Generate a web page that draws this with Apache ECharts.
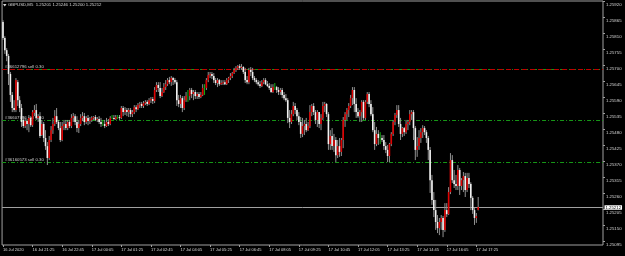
<!DOCTYPE html>
<html><head><meta charset="utf-8">
<script src="https://cdn.jsdelivr.net/npm/echarts@6/dist/echarts.min.js"></script>
<style>html,body{margin:0;padding:0;background:#000;}#c{width:625px;height:256px;}</style>
</head><body><div id="c"></div>
<script>
// Values are in pipettes (1e-5) above PRICE_BASE
const PRICE_BASE = 1.24986;
const opens = [862,807,765,745,683,611,566,559,655,593,566,525,504,521,511,532,507,549,559,532,538,473,511,463,435,394,456,490,511,538,518,497,456,504,511,497,518,504,532,538,518,497,511,532,538,518,532,521,525,532,535,525,528,518,511,511,504,518,511,532,532,528,535,535,532,566,552,559,552,559,545,552,569,562,576,580,573,583,587,580,593,597,590,628,645,635,607,621,638,648,662,655,669,662,655,593,580,600,566,593,607,607,628,614,621,607,614,604,611,635,635,662,679,683,676,662,652,662,648,652,655,648,662,669,676,686,697,704,710,704,707,690,662,655,697,690,669,662,655,648,642,655,662,648,642,635,621,638,638,628,621,628,611,600,593,532,518,545,573,559,538,518,477,504,511,490,504,552,573,552,525,552,511,532,573,580,545,442,470,435,456,404,435,415,456,525,545,559,573,600,628,580,552,538,552,587,532,587,614,580,545,490,442,477,463,463,456,435,422,401,442,477,518,542,559,511,477,497,483,511,518,545,552,497,422,435,463,483,497,483,463,422,318,250,215,174,153,174,188,147,215,201,277,387,318,305,298,353,298,318,332,284,325,305,257,215,188,215];
const closes = [807,765,745,683,611,566,559,662,593,566,518,504,521,511,532,507,552,559,532,538,470,511,463,435,394,456,490,511,538,518,497,456,504,511,497,518,504,532,538,518,497,511,532,538,518,532,521,525,532,535,525,528,518,511,511,504,518,511,532,532,528,535,535,532,566,552,559,552,559,545,552,569,562,576,580,573,583,587,580,593,597,590,628,645,635,607,621,638,648,662,655,669,662,655,593,580,600,566,593,607,607,628,614,621,607,614,604,611,635,635,662,679,683,676,662,652,662,648,652,655,648,662,669,676,686,697,704,710,704,707,690,662,655,697,690,669,662,655,648,642,655,662,648,642,635,621,638,638,628,621,628,611,600,593,532,518,545,573,559,538,518,477,504,511,490,504,552,573,552,525,552,511,532,573,580,545,442,470,435,456,404,435,415,456,525,545,559,573,600,628,580,552,538,552,587,532,587,614,580,545,490,442,477,463,463,456,435,422,401,442,477,518,542,559,511,477,497,483,511,518,545,552,497,422,435,463,483,497,483,463,422,318,250,215,174,153,174,188,147,215,201,277,387,318,305,298,353,298,318,332,284,325,305,257,215,188,194,226];
const highs = [868,813,772,752,690,621,593,669,662,607,580,538,532,528,542,538,559,576,580,545,552,525,518,490,449,470,504,532,559,566,525,518,518,525,525,525,525,545,549,545,538,525,545,552,549,538,542,535,538,538,542,535,538,532,525,525,532,528,538,542,542,542,542,542,573,573,569,566,566,566,559,576,576,583,587,587,590,593,593,600,604,604,638,655,655,655,635,652,662,669,673,676,673,669,662,611,611,607,607,621,628,635,635,628,628,621,621,621,648,648,669,690,690,690,686,669,669,666,662,662,662,669,673,686,690,704,710,714,717,717,710,704,676,704,707,704,676,669,662,659,662,669,669,659,652,648,648,652,642,638,635,635,621,614,600,559,559,587,583,566,552,535,532,525,532,518,576,580,583,559,559,552,545,587,587,583,552,490,497,477,466,456,463,463,535,552,566,583,611,638,638,600,566,559,593,593,593,621,621,593,569,518,501,490,483,473,473,449,439,446,483,525,549,576,576,532,501,501,525,525,559,559,559,504,466,490,497,507,504,490,470,432,336,277,250,198,188,198,195,239,239,294,411,404,353,336,370,360,325,346,343,343,343,311,263,222,205,260];
const lows = [800,752,727,645,587,552,552,552,573,552,501,497,497,490,483,501,501,538,525,518,463,470,449,422,370,387,449,477,504,511,490,449,452,490,490,490,497,497,518,507,483,480,504,521,507,511,507,511,518,525,521,518,511,501,504,497,501,504,507,528,525,525,528,525,528,538,542,538,535,535,535,545,552,559,566,566,566,576,573,576,583,580,583,621,621,600,604,618,628,642,648,642,645,648,573,569,566,552,559,587,587,593,600,593,597,597,597,600,607,611,628,655,669,666,652,645,638,642,645,645,645,645,652,662,669,683,690,697,697,697,683,652,648,648,676,662,655,648,642,635,638,648,645,638,628,618,618,628,618,611,611,600,593,587,514,497,511,538,545,525,507,463,466,473,483,487,497,538,542,511,501,497,490,525,552,535,422,422,422,415,380,394,398,401,428,501,525,535,566,576,552,532,532,518,518,525,525,580,569,538,483,422,435,439,442,449,422,411,380,380,435,470,507,532,501,456,466,470,477,490,507,525,456,387,398,422,446,463,473,446,387,274,233,191,147,136,129,147,122,140,191,198,270,308,291,284,284,267,284,277,260,277,291,215,202,164,171,214];

const xTickLabels = ['16 Jul 2020','16 Jul 21:25','16 Jul 22:45','17 Jul 00:05','17 Jul 01:25','17 Jul 02:45','17 Jul 04:05','17 Jul 05:25','17 Jul 06:45','17 Jul 08:05','17 Jul 09:25','17 Jul 10:45','17 Jul 12:05','17 Jul 13:25','17 Jul 14:45','17 Jul 16:05','17 Jul 17:25'];
const BARS_PER_LABEL = 16;
const TOTAL_SLOTS = 325;
const yTicks = [1.25095,1.25150,1.25205,1.25260,1.25315,1.25370,1.25425,1.25480,1.25535,1.25590,1.25645,1.25700,1.25755,1.25810,1.25865,1.25920];
const Y_MIN = 1.25081, Y_MAX = 1.25920;
const orderLevels = [1.25685, 1.25511, 1.25366];
const orderLabels = ['#36612796 sell 0.30', '#36607796 sell 0.30', '#36160573 sell 0.30'];
const stopLevel = 1.25685;
const bidPrice = 1.25212;
const titleText = 'GBPUSD,M5  1.25201 1.25246 1.25200 1.25212';

const UP = '#e00000', DOWN = '#f0f0f0', WICK = '#909090', DOJI = '#10b010';
const LINE_GREEN = '#169616', LINE_RED = '#c00000', BID_GRAY = '#a0a0a0';
const FONT = 'Liberation Sans';
const FONT_CSS = '4.3px "Liberation Sans"';

const P = v => +(PRICE_BASE + v / 1e5).toFixed(5);
const candles = opens.map((o, i) => [i, P(o), P(closes[i]), P(lows[i]), P(highs[i])]);
const categories = Array.from({length: TOTAL_SLOTS}, (_, i) => String(i));

// horizontal levels: [price, kind] kind: 1=order(green), 0=stop(red), 2=bid(gray)
const levels = orderLevels.map(v => [v, 1]).concat([[stopLevel, 0], [bidPrice, 2]]);

const chart = echarts.init(document.getElementById('c'), null, {renderer: 'canvas', devicePixelRatio: 1});
const isLabelIdx = idx => idx % BARS_PER_LABEL === 0 && idx / BARS_PER_LABEL < xTickLabels.length;

chart.setOption({
  backgroundColor: '#000',
  animation: false,
  grid: {left: 1, top: 1, right: 22, bottom: 11, show: true, borderColor: '#a0a0a0', borderWidth: 1, backgroundColor: 'transparent'},
  xAxis: {
    type: 'category', data: categories, boundaryGap: true,
    axisLine: {show: false},
    axisTick: {show: true, length: 2, alignWithLabel: true, interval: (idx) => isLabelIdx(idx), lineStyle: {color: '#a0a0a0'}},
    axisLabel: {show: true, interval: (idx) => isLabelIdx(idx), formatter: (v, idx) => xTickLabels[idx / BARS_PER_LABEL] || '',
      align: 'left', margin: 3, fontSize: 4, fontFamily: FONT, color: '#d8d8d8'},
    splitLine: {show: false}
  },
  yAxis: {
    type: 'value', position: 'right', min: Y_MIN, max: Y_MAX, scale: true,
    axisLine: {show: false},
    splitLine: {show: false},
    axisTick: {show: true, length: 2, customValues: yTicks, lineStyle: {color: '#a0a0a0'}},
    axisLabel: {show: true, customValues: yTicks, formatter: v => v.toFixed(5), margin: 3,
      fontSize: 4.3, fontFamily: FONT, color: '#d8d8d8', verticalAlign: 'top', padding: [2, 0, 0, 0],
      showMinLabel: true, showMaxLabel: true}
  },
  graphic: [
    {type: 'polygon', shape: {points: [[3, 4], [6.5, 4], [4.75, 6.5]]}, style: {fill: '#d8d8d8'}},
    {type: 'text', left: 8, top: 2.8, style: {text: titleText, fill: '#d8d8d8', font: FONT_CSS}}
  ],
  series: [
    {
      type: 'custom',
      data: levels,
      encode: {y: 0},
      clip: false,
      silent: true,
      z: 2,
      renderItem: (params, api) => {
        const v = api.value(0), kind = api.value(1);
        const cs = params.coordSys;
        const y = Math.round(api.coord([0, v])[1]) + 0.5;
        const x1 = cs.x, x2 = cs.x + cs.width;
        const children = [];
        if (kind === 0) {
          children.push({type: 'line', shape: {x1, y1: y, x2, y2: y}, style: {stroke: LINE_RED, lineWidth: 1, lineDash: [5, 3]}});
        } else if (kind === 1) {
          const k = params.dataIndex;
          children.push({type: 'line', shape: {x1, y1: y, x2, y2: y}, style: {stroke: LINE_GREEN, lineWidth: 1, lineDash: [4, 2, 1, 2]}});
          children.push({type: 'text', x: x1 + 3, y: y - 0.5, style: {text: orderLabels[k], fill: '#d0d0d0', font: FONT_CSS, verticalAlign: 'bottom', align: 'left'}});
        } else {
          children.push({type: 'line', shape: {x1, y1: y, x2, y2: y}, style: {stroke: BID_GRAY, lineWidth: 1}});
          children.push({type: 'text', x: x2 + 1.5, y: y, style: {text: v.toFixed(5), fill: '#000', backgroundColor: '#fff', padding: [0.5, 1, 0, 1], font: FONT_CSS, verticalAlign: 'middle', align: 'left'}});
        }
        return {type: 'group', children};
      }
    },
    {
      type: 'custom',
      data: candles,
      encode: {x: 0, y: [1, 2, 3, 4]},
      clip: true,
      z: 3,
      renderItem: (params, api) => {
        const i = api.value(0), o = api.value(1), c = api.value(2), l = api.value(3), h = api.value(4);
        const pH = api.coord([i, h]), pL = api.coord([i, l]), pO = api.coord([i, o]), pC = api.coord([i, c]);
        const x = pH[0];
        const doji = o === c;
        const children = [{type: 'line', shape: {x1: x, y1: pH[1], x2: x, y2: pL[1]}, style: {stroke: doji ? DOJI : WICK, lineWidth: 1}}];
        if (!doji) {
          const top = Math.min(pO[1], pC[1]), bot = Math.max(pO[1], pC[1]);
          children.push({type: 'rect', shape: {x: x - 0.8, y: top, width: 1.6, height: Math.max(bot - top, 1)}, style: {fill: c > o ? UP : DOWN}});
        }
        return {type: 'group', children};
      }
    }
  ]
});
</script>
</body></html>
